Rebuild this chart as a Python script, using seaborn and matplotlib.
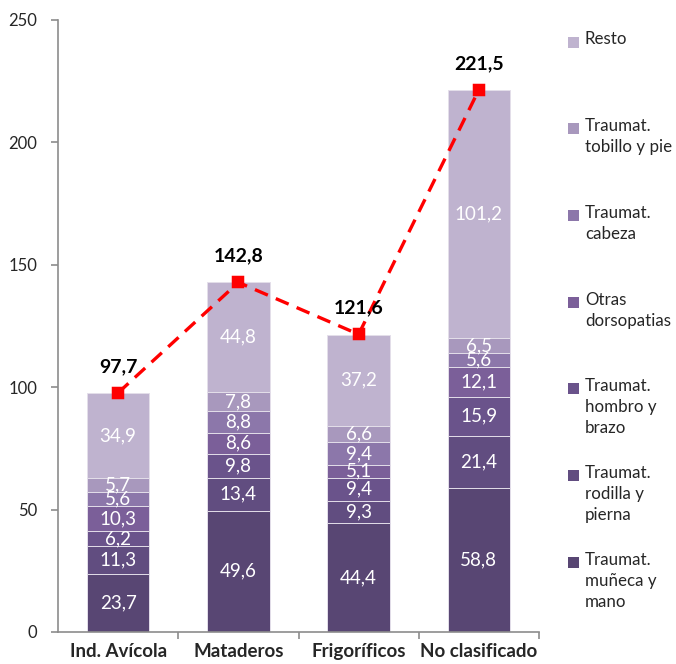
import numpy as np
import pandas as pd
import matplotlib
matplotlib.use("Agg")
import matplotlib.pyplot as plt
from matplotlib.patches import Rectangle
import seaborn as sns

# === DATA ===
sectors = ["Ind. Avícola", "Mataderos", "Frigoríficos", "No clasificado"]
# stack order: bottom -> top
causes = [
    "Traumat.\nmuñeca y\nmano",
    "Traumat.\nrodilla y\npierna",
    "Traumat.\nhombro y\nbrazo",
    "Otras\ndorsopatias",
    "Traumat.\ncabeza",
    "Traumat.\ntobillo y pie",
    "Resto",
]
munieca = [23.7, 49.6, 44.4, 58.8]
rodilla = [11.3, 13.4, 9.3, 21.4]
hombro = [6.2, 9.8, 9.4, 15.9]
dorsopatias = [10.3, 8.6, 5.1, 12.1]
cabeza = [5.6, 8.8, 9.4, 5.6]
tobillo = [5.7, 7.8, 6.6, 6.5]
resto = [34.9, 44.8, 37.2, 101.2]
totals = [97.7, 142.8, 121.6, 221.5]

colors = ["#584673", "#614d80", "#6a538b", "#7b5f99", "#8c77aa", "#a898bd", "#bfb3cf"]

# === BUILD TABLE ===
layers = [munieca, rodilla, hombro, dorsopatias, cabeza, tobillo, resto]
df = pd.DataFrame(np.array(layers).T, columns=causes)
df["sector"] = sectors
cum = df[causes].cumsum(axis=1)

sns.set_style("white")
plt.rcParams["font.family"] = ["Lato", "DejaVu Sans"]

fig = plt.figure(figsize=(6.76, 6.64), dpi=100)
ax = fig.add_axes([58 / 676, 32 / 664, 481 / 676, 612 / 664])

# draw cumulative bars from the top layer down so lower ones sit in front
for i in range(len(causes) - 1, -1, -1):
    sns.barplot(
        x=df["sector"], y=cum[causes[i]], color=colors[i], order=sectors,
        width=0.52, edgecolor="#e4dfea", linewidth=0.7, saturation=1, ax=ax,
    )

# segment labels
for j in range(len(sectors)):
    for i, c in enumerate(causes):
        mid = cum[c].iloc[j] - df[c].iloc[j] / 2
        ax.text(j, mid, f"{df[c].iloc[j]:.1f}".replace(".", ","),
                ha="center", va="center", color="white", fontsize=13.5)

# total line
sns.pointplot(x=sectors, y=totals, order=sectors, color="#ff0000", markers="s",
              linestyles="--", errorbar=None, markersize=6.5, linewidth=2.4, ax=ax)
for ln in ax.lines:
    ln.set_dashes((4.2, 2.6))
for j, t in enumerate(totals):
    ax.annotate(f"{t:.1f}".replace(".", ","), (j, t), xytext=(0, 19),
                textcoords="offset points", ha="center", va="center",
                fontsize=14, fontweight="bold", color="black")

# axes styling
ax.set_xlim(-0.5, 3.5)
ax.set_ylim(0, 250)
ax.set_yticks(range(0, 251, 50))
ax.set_xlabel("")
ax.set_ylabel("")
for s in ["top", "right"]:
    ax.spines[s].set_visible(False)
for s in ["left", "bottom"]:
    ax.spines[s].set_color("#8c8c8c")
    ax.spines[s].set_linewidth(1.2)
ax.tick_params(axis="y", length=5, width=1.2, color="#8c8c8c", direction="out",
               labelsize=12, pad=10, left=True)
ax.tick_params(axis="x", length=0, labelsize=13.5, pad=8)
ax.set_xticks([0.5, 1.5, 2.5, 3.5], minor=True)
ax.tick_params(axis="x", which="minor", length=5, width=1.2, color="#8c8c8c",
               direction="out", bottom=True)
for lab in ax.get_xticklabels():
    lab.set_fontweight("bold")

# legend: patch beside the first line of each entry, top = Resto
top_y = 1 - 42 / 664
step = 86.7 / 664
for k, i in enumerate(range(len(causes) - 1, -1, -1)):
    y = top_y - k * step
    fig.patches.append(Rectangle((568 / 676, y - 5.5 / 664), 11 / 676, 11 / 664,
                                 facecolor=colors[i], edgecolor="none",
                                 transform=fig.transFigure))
    fig.text(585 / 676, y + 10.5 / 664, causes[i], ha="left", va="top",
             fontsize=12.2, linespacing=1.38)

fig.savefig("out.png", dpi=100)
